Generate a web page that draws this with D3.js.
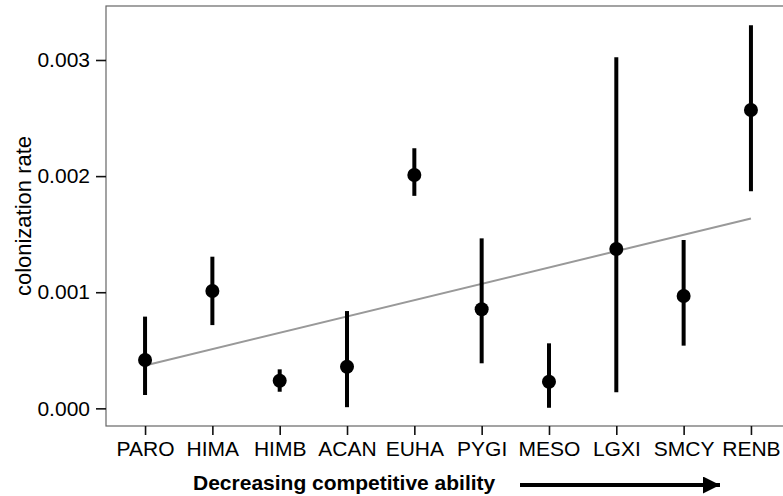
<!DOCTYPE html>
<html>
<head>
<meta charset="utf-8">
<script src="https://cdn.jsdelivr.net/npm/d3@7"></script>
<style>
  body { margin: 0; background: #fff; }
  svg { display: block; font-family: "Liberation Sans", Arial, Helvetica, sans-serif; }
</style>
</head>
<body>
<svg id="chart"></svg>
<script>
// species, ordered by decreasing competitive ability
const species = ["PARO", "HIMA", "HIMB", "ACAN", "EUHA", "PYGI", "MESO", "LGXI", "SMCY", "RENB"];
const rate  = [0.000416, 0.00101, 0.000238, 0.000358, 0.00201, 0.000853, 0.000229, 0.001372, 0.000967, 0.00257];
const lower = [0.000115, 0.000717, 0.000143, 0.00001, 0.00183, 0.000388, 0.000005, 0.000138, 0.00054, 0.00187];
const upper = [0.00079, 0.001306, 0.000336, 0.000838, 0.00224, 0.001464, 0.00056, 0.003023, 0.00145, 0.0033];
const yTicks = [0, 0.001, 0.002, 0.003];

const width = 783, height = 496;
const margin = { top: 6, right: -7, bottom: 70, left: 106 };
const innerW = width - margin.left - margin.right;
const innerH = height - margin.top - margin.bottom;

const data = species.map((s, i) => ({ s, i: i + 1, v: rate[i], lo: lower[i], hi: upper[i] }));

const svg = d3.select('#chart')
    .attr('width', width)
    .attr('height', height);

const g = svg.append('g')
    .attr('transform', `translate(${margin.left},${margin.top})`);

//scales
const xScale = d3.scaleLinear()
    .domain([0.42, 10.58])
    .range([0, innerW]);

const yScale = d3.scaleLinear()
    .domain([-0.000152, 0.003465])
    .range([innerH, 0]);

//frame
g.append('rect')
    .attr('width', innerW)
    .attr('height', innerH)
    .attr('fill', 'none')
    .attr('stroke', '#666')
    .attr('stroke-width', 1.2);

//x-axis
const xAxis = g.append('g')
    .attr('transform', `translate(0,${innerH})`)
    .call(d3.axisBottom(xScale)
        .tickValues(data.map(d => d.i))
        .tickFormat(i => species[i - 1])
        .tickSize(9)
        .tickPadding(6));

//y-axis
const yAxis = g.append('g')
    .call(d3.axisLeft(yScale)
        .tickValues(yTicks)
        .tickFormat(d3.format('.3f'))
        .tickSize(10)
        .tickPadding(6));

[xAxis, yAxis].forEach(a => {
    a.select('.domain').remove();
    a.selectAll('.tick line').attr('stroke', '#111').attr('stroke-width', 1.6);
    a.selectAll('.tick text')
        .attr('fill', '#000')
        .style('font-size', '21px')
        .style('font-family', '"Liberation Sans", Arial, sans-serif');
});

//linear trend fitted to the rates
const mx = d3.mean(data, d => d.i);
const my = d3.mean(data, d => d.v);
const slope = d3.sum(data, d => (d.i - mx) * (d.v - my)) / d3.sum(data, d => (d.i - mx) ** 2);
const first = data[0].i, last = data[data.length - 1].i;
const trend = [first, last].map(x => ({ x, y: my + slope * (x - mx) }));

g.append('path')
    .datum(trend)
    .attr('fill', 'none')
    .attr('stroke', '#999')
    .attr('stroke-width', 2)
    .attr('d', d3.line().x(d => xScale(d.x)).y(d => yScale(d.y)));

//error bars
g.selectAll('.err')
    .data(data)
    .enter().append('line')
    .attr('class', 'err')
    .attr('x1', d => xScale(d.i))
    .attr('x2', d => xScale(d.i))
    .attr('y1', d => yScale(d.lo))
    .attr('y2', d => yScale(d.hi))
    .attr('stroke', '#000')
    .attr('stroke-width', 4);

//points
g.selectAll('.pt')
    .data(data)
    .enter().append('circle')
    .attr('class', 'pt')
    .attr('cx', d => xScale(d.i))
    .attr('cy', d => yScale(d.v))
    .attr('r', 7)
    .attr('fill', '#000');

//axis titles
svg.append('text')
    .attr('transform', `translate(31,${margin.top + innerH / 2}) rotate(-90)`)
    .attr('text-anchor', 'middle')
    .style('font-size', '22px')
    .text('colonization rate');

svg.append('text')
    .attr('x', 193)
    .attr('y', 490)
    .style('font-size', '21px')
    .style('font-weight', 'bold')
    .text('Decreasing competitive ability');

//arrow
const defs = svg.append('defs');
defs.append('marker')
    .attr('id', 'head')
    .attr('viewBox', '0 0 10 10')
    .attr('refX', 10)
    .attr('refY', 5)
    .attr('markerUnits', 'userSpaceOnUse')
    .attr('markerWidth', 20)
    .attr('markerHeight', 17)
    .attr('orient', 'auto')
    .append('path')
    .attr('d', 'M0,0L10,5L0,10Z')
    .attr('fill', '#000');

svg.append('line')
    .attr('x1', 520)
    .attr('x2', 720)
    .attr('y1', 485)
    .attr('y2', 485)
    .attr('stroke', '#000')
    .attr('stroke-width', 4)
    .attr('marker-end', 'url(#head)');
</script>
</body>
</html>
